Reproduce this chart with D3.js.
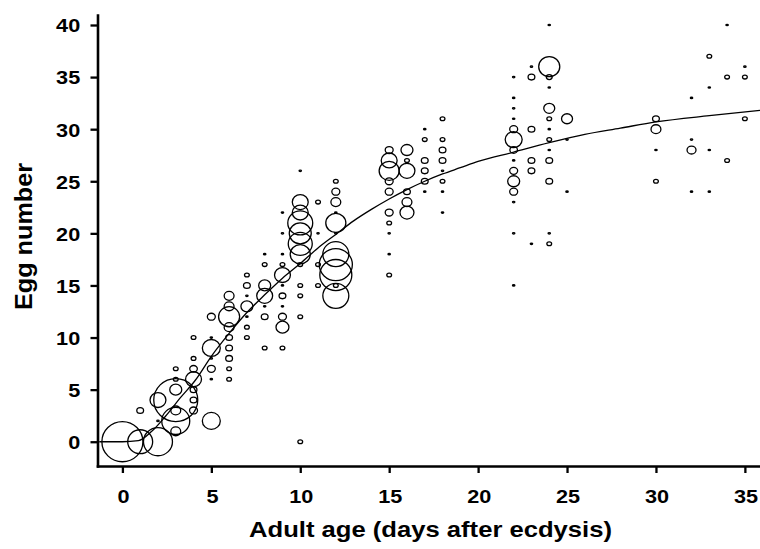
<!DOCTYPE html>
<html>
<head>
<meta charset="utf-8">
<script src="https://cdn.jsdelivr.net/npm/d3@7"></script>
<style>
  body { margin: 0; background: #fff; }
  text { font-family: "Liberation Sans", Arial, sans-serif; font-weight: bold; fill: #000; }
</style>
</head>
<body>
<svg id="chart" width="760" height="549"></svg>
<script>
// observations: adult age (days), egg number, number of females (bubble size)
var ageDays = [
  0,
  1, 1,
  2, 2, 2,
  3, 3, 3, 3, 3, 3, 3,
  4, 4, 4, 4, 4, 4, 4,
  5, 5, 5, 5, 5, 5, 5,
  6, 6, 6, 6, 6, 6, 6, 6, 6,
  7, 7, 7, 7, 7, 7, 7,
  8, 8, 8, 8, 8, 8, 8,
  9, 9, 9, 9, 9, 9, 9, 9, 9, 9, 9,
  10, 10, 10, 10, 10, 10, 10, 10, 10, 10, 10, 10,
  11, 11, 11, 11,
  12, 12, 12, 12, 12, 12, 12, 12, 12, 12, 12,
  15, 15, 15, 15, 15, 15, 15, 15, 15, 15,
  16, 16, 16, 16, 16, 16,
  17, 17, 17, 17, 17, 17,
  18, 18, 18, 18, 18, 18, 18, 18,
  22, 22, 22, 22, 22, 22, 22, 22, 22, 22, 22, 22, 22, 22,
  23, 23, 23, 23, 23, 23,
  24, 24, 24, 24, 24, 24, 24, 24, 24, 24, 24, 24, 24,
  25, 25, 25,
  30, 30, 30, 30,
  32, 32, 32, 32,
  33, 33, 33, 33,
  34, 34, 34,
  35, 35, 35
];
var eggCount = [
  0,
  0, 3,
  0, 4, 2,
  4, 5, 2, 3, 1, 7, 6,
  6, 7, 5, 4, 3, 8, 10,
  9, 7, 6, 10, 12, 2, 8,
  12, 13, 11, 10, 9, 8, 7, 6, 14,
  16, 15, 14, 13, 12, 11, 10,
  18, 17, 15, 14, 13, 12, 9,
  22, 20, 18, 17, 16, 15, 14, 13, 12, 11, 9,
  26, 23, 22, 21, 20, 19, 18, 17, 15, 14, 12, 0,
  23, 20, 17, 15,
  25, 24, 23, 22, 21, 20, 18, 17, 16, 15, 14,
  28, 27, 26, 25, 24, 22, 21, 20, 18, 16,
  28, 27, 26, 24, 23, 22,
  30, 29, 27, 26, 25, 24,
  31, 29, 28, 27, 26, 25, 24, 22,
  35, 33, 32, 31, 30, 29, 28, 27, 26, 25, 24, 23, 20, 15,
  36, 35, 30, 27, 26, 19,
  40, 36, 35, 34, 32, 31, 30, 29, 28, 27, 25, 20, 19,
  31, 29, 24,
  31, 30, 28, 25,
  33, 29, 28, 24,
  37, 34, 28, 24,
  40, 35, 27,
  36, 35, 31
];
var femaleCount = [
  292,
  108, 8,
  146, 44, 1,
  336, 25, 136, 17, 17, 4, 4,
  44, 10, 8, 8, 11, 4, 4,
  56, 11, 1, 1, 11, 56, 1,
  77, 17, 17, 8, 8, 8, 4, 4, 17,
  4, 8, 1, 25, 1, 4, 4,
  1, 4, 25, 44, 1, 8, 4,
  1, 1, 1, 4, 44, 1, 8, 1, 11, 29, 4,
  1, 44, 44, 108, 84, 100, 70, 4, 4, 4, 4, 4,
  4, 1, 4, 4,
  4, 11, 17, 1, 70, 1, 117, 190, 178, 4, 117,
  11, 44, 70, 11, 11, 11, 4, 1, 1, 4,
  25, 4, 44, 8, 17, 34,
  1, 4, 8, 8, 8, 1,
  4, 4, 8, 8, 1, 4, 1, 1,
  1, 1, 1, 1, 11, 50, 10, 1, 11, 25, 11, 1, 1, 1,
  1, 8, 8, 8, 8, 1,
  1, 77, 6, 1, 21, 4, 1, 4, 1, 8, 8, 1, 4,
  21, 1, 1,
  8, 17, 1, 4,
  1, 1, 14, 1,
  4, 1, 1, 1,
  1, 4, 4,
  1, 4, 4
];

// fitted curve
var curveAge  = [-1.3, 0, 0.9, 1.65, 2.4, 3.3, 4.1, 5, 6, 7, 8, 9, 10, 11, 12, 13, 14, 15, 16, 17, 18, 19, 20, 22, 24, 26, 28, 30, 33, 35.85];
var curveEggs = [0, 0, 0.1, 1.0, 2.4, 4.3, 5.9, 8.2, 10.4, 12.4, 14.1, 15.7, 17.1, 18.6, 19.9, 21.2, 22.3, 23.3, 24.2, 25.0, 25.7, 26.3, 26.9, 27.8, 28.7, 29.5, 30.1, 30.7, 31.3, 31.8];

var xTicks = [0, 5, 10, 15, 20, 25, 30, 35];
var yTicks = [0, 5, 10, 15, 20, 25, 30, 35, 40];

var svg = d3.select("#chart");

var x = d3.scaleLinear().domain([-1.4, 35.85]).range([97.5, 760]),
  y = d3.scaleLinear().domain([-2.33, 40.96]).range([466, 15]),
  r = d3.scaleSqrt().domain([1, 336]).range([0.7, 21.5]);

var points = ageDays.map(function (a, i) {
  return { age: a, eggs: eggCount[i], n: femaleCount[i] };
});
// draw big bubbles first
points.sort(function (a, b) { return b.n - a.n; });

svg.append("g")
  .selectAll("ellipse")
  .data(points)
  .enter()
  .append("ellipse")
  .attr("cx", function (d) { return x(d.age); })
  .attr("cy", function (d) { return y(d.eggs); })
  .attr("rx", function (d) { return r(d.n) + 0.5; })
  .attr("ry", function (d) { return r(d.n); })
  .style("fill", "none")
  .style("stroke", "#000")
  .style("stroke-width", 1.3);

var line = d3.line()
  .x(function (d) { return x(d[0]); })
  .y(function (d) { return y(d[1]); })
  .curve(d3.curveMonotoneX);

svg.append("path")
  .datum(curveAge.map(function (a, i) { return [a, curveEggs[i]]; }))
  .attr("d", line)
  .style("fill", "none")
  .style("stroke", "#000")
  .style("stroke-width", 1.3);

var gx = svg.append("g")
  .attr("transform", "translate(0,466)")
  .call(d3.axisBottom(x).tickValues(xTicks).tickSize(7).tickSizeOuter(0));

var gy = svg.append("g")
  .attr("transform", "translate(97.5,0)")
  .call(d3.axisLeft(y).tickValues(yTicks).tickSize(7).tickSizeOuter(0));

svg.selectAll(".domain").style("stroke-width", 2.6).style("stroke-linecap", "square");
svg.selectAll(".tick line").style("stroke-width", 2.3);
// the original digits are drawn a little wide
svg.selectAll(".tick text")
  .style("font-family", '"Liberation Sans", Arial, sans-serif')
  .style("font-weight", "bold")
  .style("font-size", "19px")
  .attr("transform", "scale(1.14,1)");

gx.selectAll(".tick text").attr("y", 37.3).attr("dy", 0).attr("dx", 0.5);
gy.selectAll(".tick text").attr("x", -15.2).attr("dy", "0.36em");

svg.append("text")
  .attr("x", 430.5)
  .attr("y", 537.3)
  .attr("text-anchor", "middle")
  .attr("textLength", 363)
  .attr("lengthAdjust", "spacingAndGlyphs")
  .style("font-size", "22px")
  .text("Adult age (days after ecdysis)");

svg.append("text")
  .attr("text-anchor", "middle")
  .attr("transform", "translate(31.7,236.5)rotate(-90)")
  .attr("textLength", 147)
  .attr("lengthAdjust", "spacingAndGlyphs")
  .style("font-size", "24.5px")
  .text("Egg number");
</script>
</body>
</html>
